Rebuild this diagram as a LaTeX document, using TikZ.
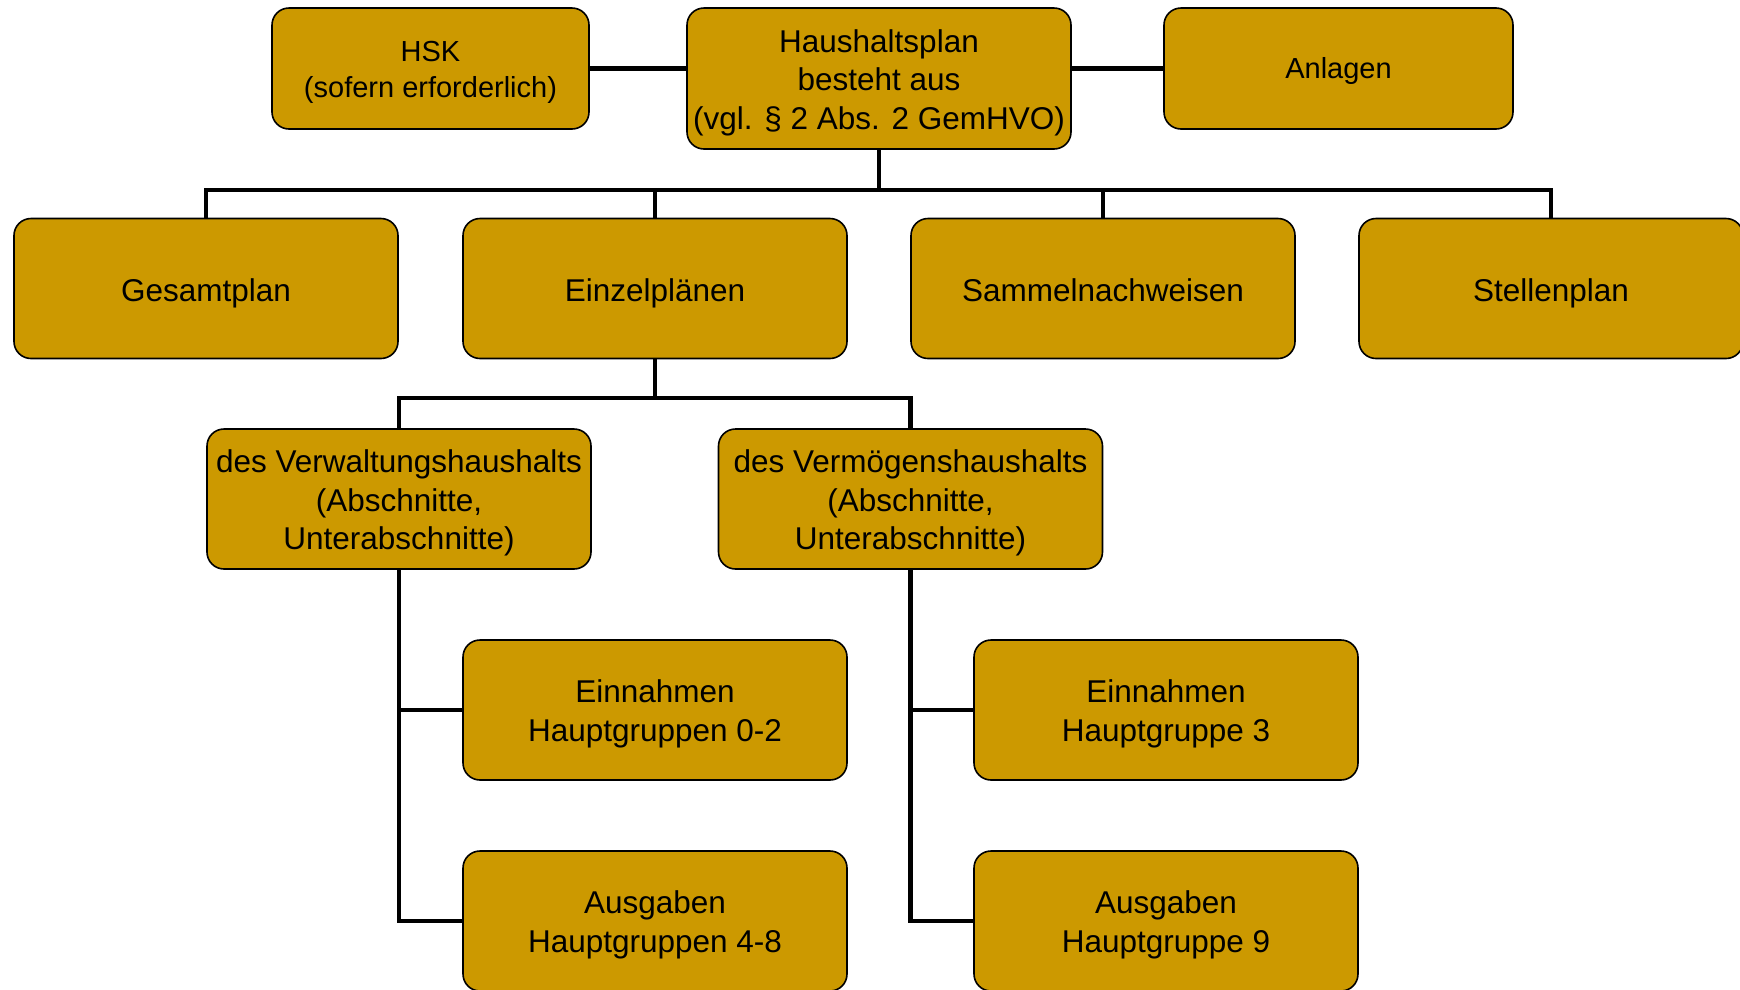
\documentclass[tikz,border=0pt]{standalone}
\usepackage{fontspec}
\setmainfont{Liberation Sans}
\usepackage{tikz}
\usetikzlibrary{positioning}
\definecolor{gold}{HTML}{CC9900}
\newcommand\bigtxt{\fontsize{31.5}{38.5}\selectfont}
\newcommand\smalltxt{\fontsize{29}{35.5}\selectfont}

\begin{document}
\begin{tikzpicture}[x=1pt,y=-1pt,
  panel/.style={draw=black,line width=1.6pt,fill=gold,rounded corners=17pt,
    minimum width=384pt,minimum height=140pt,inner sep=0pt},
  txt/.style={align=center,inner sep=0pt,font=\bigtxt},
  box/.style={panel,label={[txt,yshift=-4pt]center:{#1}}},
  onebox/.style={panel,label={[txt,text height=25pt,text depth=0pt]center:{#1}}},
  link/.style={line width=4.5pt}]
\useasboundingbox (0,0) rectangle (1740,989);
% top row
\node[box={Haushaltsplan\\besteht aus\\(vgl. \S\ 2 Abs. 2 GemHVO)},minimum height=141pt] (hp) at (879,78.5) {};
\node[panel,minimum width=317pt,minimum height=121pt,
  label={[txt,font=\smalltxt,yshift=-4pt]center:{HSK\\(sofern erforderlich)}}] (hsk) at (430.5,68.5) {};
\node[panel,minimum width=349pt,minimum height=121pt,
  label={[txt,font=\smalltxt,text height=19pt,text depth=0pt]center:Anlagen}] (anl) at (1338.5,68.5) {};
% second row
\node[onebox=Gesamtplan] (ges) at (206,288.5) {};
\node[onebox=Einzelplänen] (ein) at (655,288.5) {};
\node[onebox=Sammelnachweisen] (sam) at (1103,288.5) {};
\node[onebox=Stellenplan] (stp) at (1551,288.5) {};
% third row
\node[box={des Verwaltungshaushalts\\(Abschnitte,\\Unterabschnitte)}] (verw) at (399,499) {};
\node[box={des Vermögenshaushalts\\(Abschnitte,\\Unterabschnitte)}] (verm) at (910.5,499) {};
% fourth and fifth row
\node[box={Einnahmen\\Hauptgruppen 0-2}] (ein1) at (655,710) {};
\node[box={Ausgaben\\Hauptgruppen 4-8}] (aus1) at (655,921) {};
\node[box={Einnahmen\\Hauptgruppe 3}] (ein2) at (1166,710) {};
\node[box={Ausgaben\\Hauptgruppe 9}] (aus2) at (1166,921) {};

\coordinate (bus) at (879,190);
\coordinate (bus2) at (655,398);

\draw[link] (hsk.east) -- (hsk.east -| hp.west);
\draw[link] (anl.west) -- (anl.west -| hp.east);
\draw[link] (hp.south) -- (bus);
\draw[link] (ges.north) |- (bus);
\draw[link] (ein.north) |- (bus);
\draw[link] (sam.north) |- (bus);
\draw[link] (stp.north) |- (bus);
\draw[link] (ein.south) -- (bus2);
\draw[link] (verw.north) |- (bus2);
\draw[link] (verm.north) |- (bus2);
\draw[link] (verw.south) |- (ein1.west);
\draw[link] (verw.south) |- (aus1.west);
\draw[link] (verm.south) |- (ein2.west);
\draw[link] (verm.south) |- (aus2.west);
\end{tikzpicture}
\end{document}
